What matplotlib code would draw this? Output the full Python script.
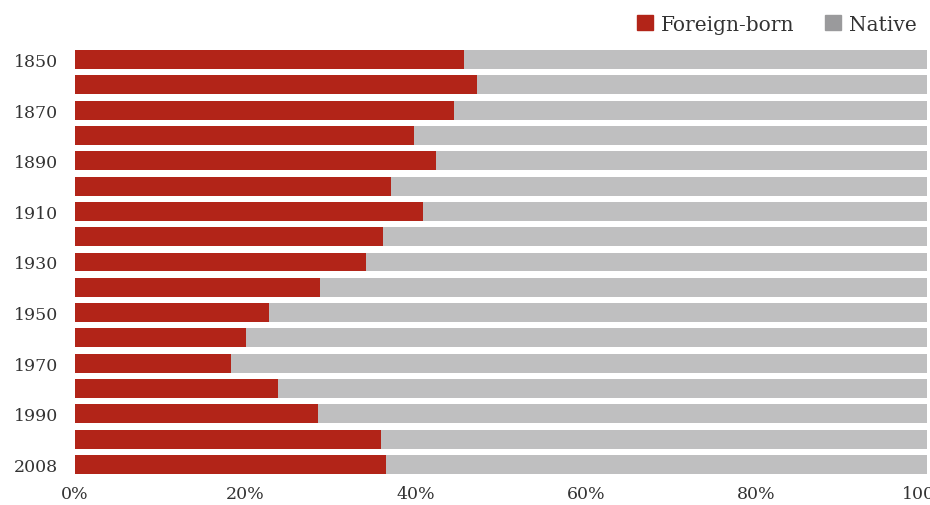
import matplotlib
matplotlib.use("Agg")
import matplotlib.pyplot as plt
from matplotlib.patches import Patch
import numpy as np

# Share of foreign-born vs native (%)
years = ["1850", "1860", "1870", "1880", "1890", "1900", "1910", "1920", "1930",
         "1940", "1950", "1960", "1970", "1980", "1990", "2000", "2008"]
foreign_born = [45.7, 47.2, 44.5, 39.8, 42.4, 37.1, 40.9, 36.2, 34.1,
                28.8, 22.8, 20.1, 18.3, 23.8, 28.5, 35.9, 36.5]
native = [100 - v for v in foreign_born]
label_years = ["1850", "1870", "1890", "1910", "1930", "1950", "1970", "1990", "2008"]
x_ticks = [0, 20, 40, 60, 80, 100]

red = "#b22418"
grey = "#bfbfc0"

plt.rcParams['font.family'] = ['DejaVu Serif']

fig = plt.figure(figsize=(9.30, 5.06), dpi=100)
ax = fig.add_axes([75 / 930, 1 - 478 / 506, 852 / 930, (478 - 48) / 506])

y = np.arange(len(years))
ax.barh(y, foreign_born, height=0.75, color=red, linewidth=0)
ax.barh(y, native, left=foreign_born, height=0.75, color=grey, linewidth=0)

ax.set_ylim(len(years) - 0.5, -0.5)
ax.set_xlim(0, 100)
ax.set_yticks([years.index(t) for t in label_years])
ax.set_yticklabels(label_years)
ax.set_xticks(x_ticks)
ax.set_xticklabels([f"{t}%" for t in x_ticks])
ax.tick_params(length=0, labelsize=12.5, colors="#333333")
ax.tick_params(axis='y', pad=12)
ax.tick_params(axis='x', pad=6)
for s in ax.spines.values():
    s.set_visible(False)

handles = [Patch(color=red, label="Foreign-born"), Patch(color="#9a9a9c", label="Native")]
fig.legend(handles=handles, loc="upper right", bbox_to_anchor=(1.005, 1.005), ncol=2,
           frameon=False, fontsize=14.5, handlelength=0.8, handleheight=0.8,
           handletextpad=0.4, columnspacing=1.5, labelcolor="#333333")

fig.savefig("out.png", dpi=100)
